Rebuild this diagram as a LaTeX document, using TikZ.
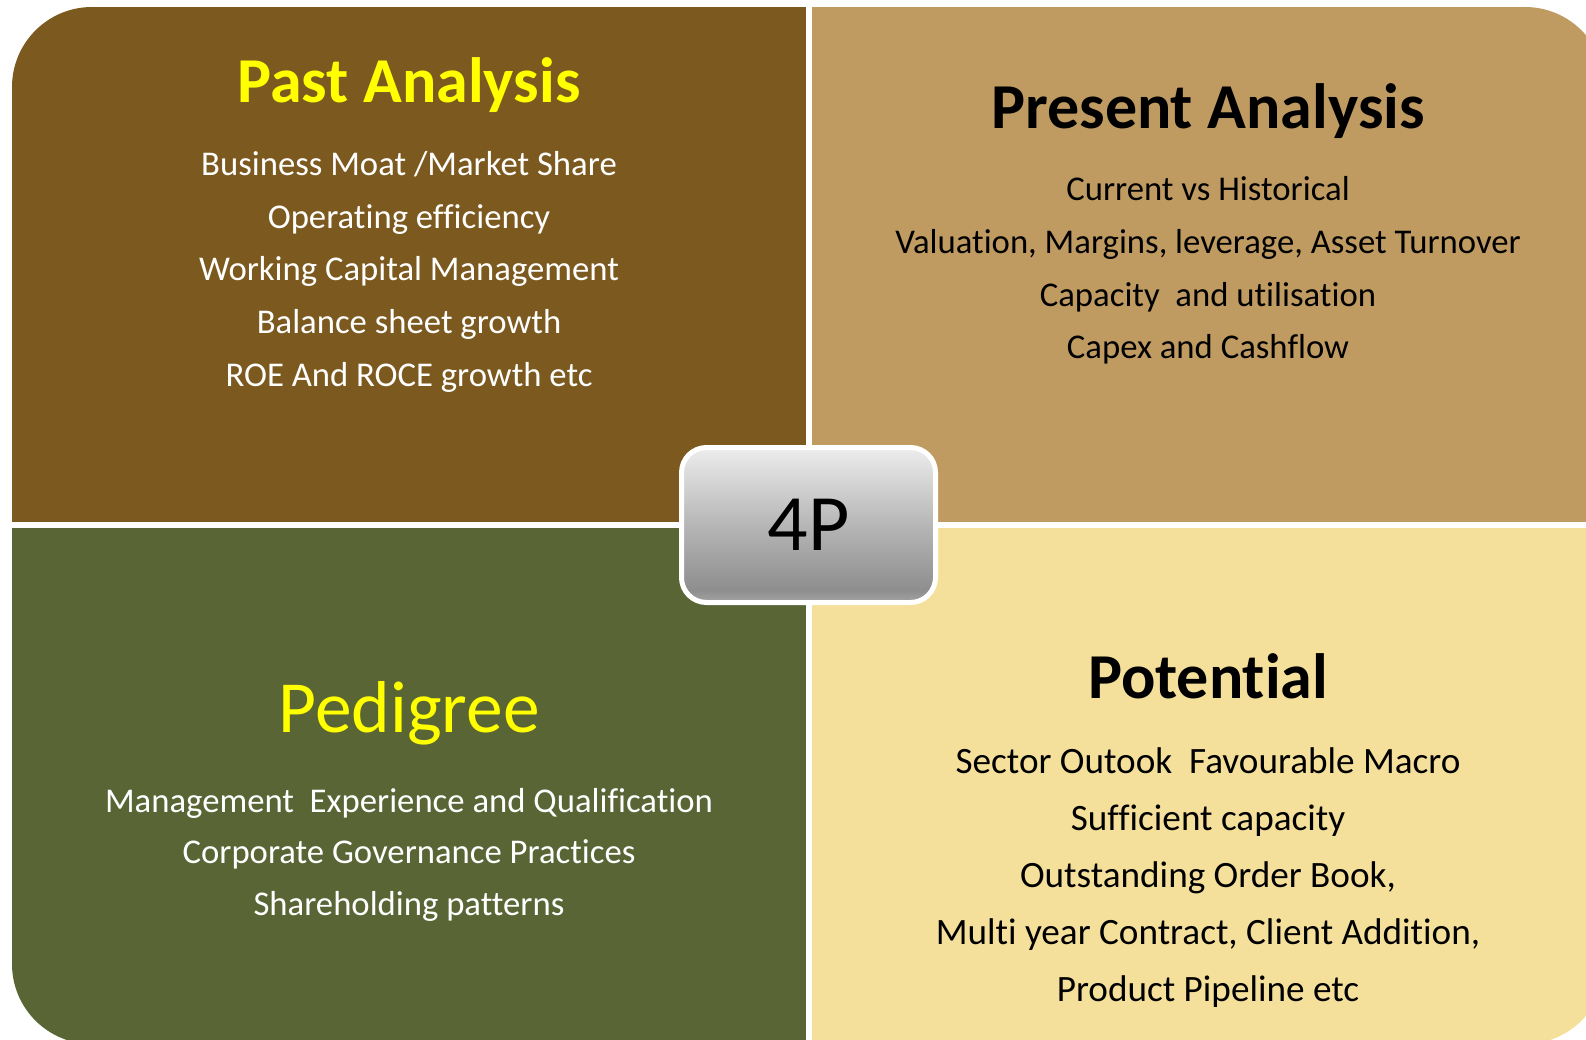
\documentclass[tikz,border=0pt]{standalone}
\usepackage{fontspec}
\setmainfont{Carlito}[Ligatures={NoCommon,NoContextual,NoRequired}]
\usepackage{xcolor}
\definecolor{pastbrown}{HTML}{7C5A1F}
\definecolor{presenttan}{HTML}{BF9B62}
\definecolor{pedigreegreen}{HTML}{596535}
\definecolor{potentialcream}{HTML}{F5E09B}
\definecolor{titleyellow}{HTML}{FFFF00}
\definecolor{fourpbot}{HTML}{A4A4A4}
\definecolor{fourpdark}{HTML}{8E8E8E}
\definecolor{fourpmid}{HTML}{B6B6B6}
\definecolor{fourptop}{HTML}{EDEDED}
\pgfdeclareverticalshading{fourpshade}{100bp}{color(0bp)=(fourpbot); color(25bp)=(fourpbot); color(29bp)=(fourpdark); color(50bp)=(fourpmid); color(75bp)=(fourptop); color(100bp)=(fourptop)}

\begin{document}
\begin{tikzpicture}[x=1pt, y=-1pt,
    bodylight/.style={anchor=base, text=white, font=\fontsize{34.7}{40}\selectfont},
    bodydark/.style={anchor=base, text=black, font=\fontsize{34.7}{40}\selectfont},
    bodybig/.style={anchor=base, text=black, font=\fontsize{37.2}{42}\selectfont}]
      \useasboundingbox (0,0) rectangle (1586,1039);
      \begin{scope}
        \clip[rounded corners=80pt] (12,7) rectangle (1605,1044);
        \fill[pastbrown] (12,7) rectangle (809,524.5);
        \fill[presenttan] (809,7) rectangle (1605,524.5);
        \fill[pedigreegreen] (12,524.5) rectangle (809,1044);
        \fill[potentialcream] (809,524.5) rectangle (1605,1044);
        \fill[white] (806,0) rectangle (812,1044);
        \fill[white] (0,521.5) rectangle (1605,527.5);
      \end{scope}
      % past
      \node [anchor=base, text=titleyellow, font=\fontsize{64}{70}\selectfont\bfseries] (past) at (409,102) {Past Analysis};
      \node [bodylight] (past1) at (409,175) {Business Moat /Market Share};
      \node [bodylight] (past2) at (409,228) {Operating efficiency};
      \node [bodylight] (past3) at (409,280) {Working Capital Management};
      \node [bodylight] (past4) at (409,333) {Balance sheet growth};
      \node [bodylight] (past5) at (409,386) {ROE And ROCE growth etc};
      % present
      \node [anchor=base, text=black, font=\fontsize{64}{70}\selectfont\bfseries] (present) at (1208,128) {Present Analysis};
      \node [bodydark] (present1) at (1208,200) {Current vs Historical};
      \node [bodydark] (present2) at (1208,253) {Valuation, Margins, leverage, Asset Turnover};
      \node [bodydark] (present3) at (1208,306) {Capacity~ and utilisation};
      \node [bodydark] (present4) at (1208,358) {Capex and Cashflow};
      % pedigree
      \node [anchor=base, text=titleyellow, font=\fontsize{73.5}{80}\selectfont] (pedigree) at (409,732) {Pedigree};
      \node [bodylight] (pedigree1) at (409,812) {Management~ Experience and Qualification};
      \node [bodylight] (pedigree2) at (409,863) {Corporate Governance Practices};
      \node [bodylight] (pedigree3) at (409,915) {Shareholding patterns};
      % potential
      \node [anchor=base, text=black, font=\fontsize{64}{70}\selectfont\bfseries] (potential) at (1208,698) {Potential};
      \node [bodybig] (potential1) at (1208,773) {Sector Outook~ Favourable Macro};
      \node [bodybig] (potential2) at (1208,830) {Sufficient capacity};
      \node [bodybig] (potential3) at (1208,887) {Outstanding Order Book,};
      \node [bodybig] (potential4) at (1208,944) {Multi year Contract, Client Addition,};
      \node [bodybig] (potential5) at (1208,1001) {Product Pipeline etc};
      % centre
      \node [draw=white, line width=5pt, rounded corners=25pt, shading=fourpshade, minimum width=254pt, minimum height=155pt, inner sep=0pt, font=\fontsize{80}{86}\selectfont] (fourp) at (808.5,525) {4P};
    \end{tikzpicture}
\end{document}
